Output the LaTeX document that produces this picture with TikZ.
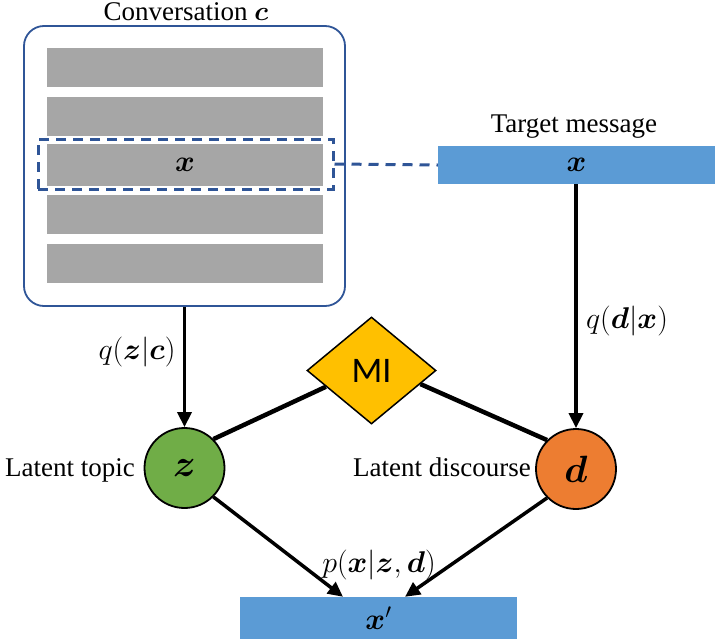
\RequirePackage{fix-cm}
\documentclass[tikz,border=0pt]{standalone}
\usepackage{amsmath}
\usepackage{bm}
\usepackage{fontspec}
\setmainfont{Liberation Serif}
\newfontfamily\calibri{Carlito}
\usetikzlibrary{shapes.geometric,arrows.meta,calc}
\definecolor{boxblue}{HTML}{2F5597}
\definecolor{bargray}{HTML}{A6A6A6}
\definecolor{msgblue}{HTML}{5B9BD5}
\definecolor{topicgreen}{HTML}{70AD47}
\definecolor{discorange}{HTML}{ED7D31}
\definecolor{migold}{HTML}{FFC000}
\begin{document}
\begin{tikzpicture}[x=1pt,y=-1pt,
  convbar/.style={fill=bargray,draw=none,minimum width=276pt,minimum height=39pt,inner sep=0pt},
  msgbar/.style={fill=msgblue,draw=none,minimum width=277pt,minimum height=38pt,inner sep=0pt},
  lbl/.style={inner sep=0pt,font=\fontsize{27}{31}\selectfont},
  mlbl/.style={inner sep=0pt,font=\fontsize{30}{34}\selectfont},
  barletter/.style={font=\fontsize{30}{34}\selectfont},
  latent/.style={circle,draw=black,line width=1.8pt,minimum size=80pt,inner sep=0pt,font=\fontsize{38}{42}\selectfont},
  arr/.style={-{Triangle[length=15pt,width=14pt]},line width=3.5pt},
  link/.style={line width=4.5pt}]
\useasboundingbox (0,0) rectangle (717,640);

% conversation box
\node[draw=boxblue,line width=1.8pt,rounded corners=20pt,minimum width=321pt,minimum height=280pt,inner sep=0pt] (conv) at (184.5,166) {};
\node[lbl] (convtitle) at (186,12) {Conversation $\bm{c}$};
\node[convbar] (b1) at (185,67.5) {};
\node[convbar] (b2) at (185,116.5) {};
\node[convbar,minimum height=42pt,barletter] (b3) at (185,165) {$\bm{x}$};
\node[convbar] (b4) at (185,214) {};
\node[convbar] (b5) at (185,263) {};
\node[draw=boxblue,dash pattern=on 10pt off 7pt,line width=3pt,minimum width=295pt,minimum height=50pt,inner sep=0pt] (sel) at (185.5,164) {};

% target message
\node[msgbar,barletter] (target) at (576.5,165) {$\bm{x}$};
\node[lbl] (targettitle) at (574,127) {Target message};
\draw[draw=boxblue,dash pattern=on 10pt off 7pt,line width=3pt] (sel.east) -- (target.west);

% latent nodes
\node[latent,fill=topicgreen] (z) at (184.5,468) {$\bm{z}$};
\node[latent,fill=discorange] (d) at (576,469) {$\bm{d}$};
\node[lbl,anchor=base east] (ztext) at (135,476) {Latent topic};
\node[lbl,anchor=base east] (dtext) at (531,476) {Latent discourse};

% MI diamond
\node[diamond,fill=migold,draw=black,line width=1.5pt,minimum width=129pt,minimum height=107pt,inner sep=0pt,font=\calibri\fontsize{36}{40}\selectfont] (mi) at (371.5,370.5) {MI};

% output
\node[msgbar,minimum height=42pt,barletter] (out) at (378.5,618) {$\bm{x}'$};

% edges
\draw[arr] (conv.south -| z.north) -- (z.north);
\draw[arr] (target.south -| d.north) -- (d.north);
\draw[link] (z.45) -- ($(mi.west)!0.3!(mi.south)$);
\draw[link] (d.135) -- ($(mi.east)!0.25!(mi.south)$);
\draw[arr] (z.-45) -- (out.north -| 343,0);
\draw[arr] (d.-135) -- (out.north -| 405,0);

% labels
\node[mlbl] (lqz) at (137,352) {$q(\bm{z}|\bm{c})$};
\node[mlbl] (lqd) at (627,321) {$q(\bm{d}|\bm{x})$};
\node[mlbl] (lp) at (379,565) {$p(\bm{x}|\bm{z},\bm{d})$};
\end{tikzpicture}
\end{document}
